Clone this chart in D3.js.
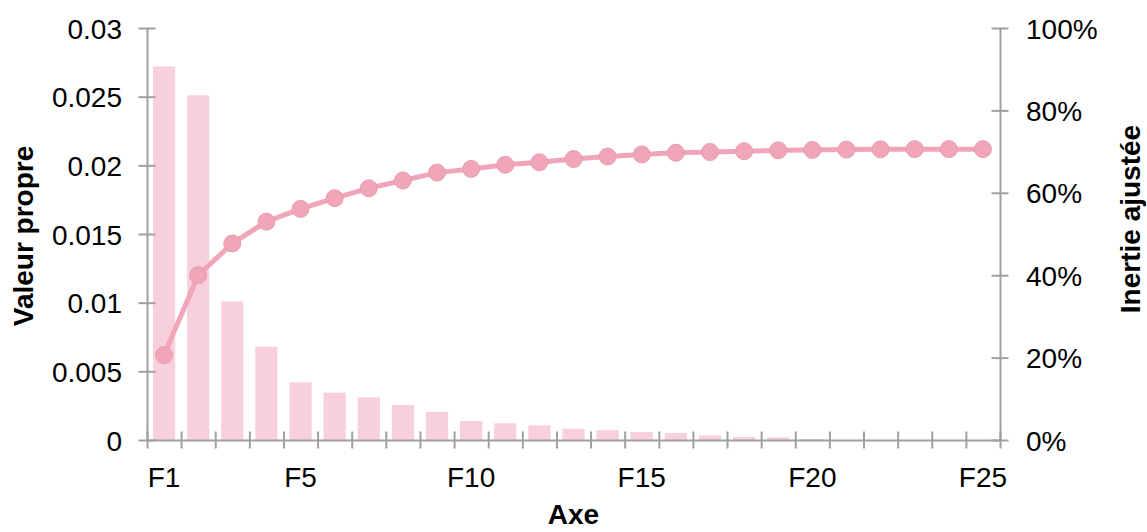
<!DOCTYPE html>
<html><head><meta charset="utf-8">
<script src="https://cdn.jsdelivr.net/npm/d3@7/dist/d3.min.js"></script>
<style>
html,body{margin:0;padding:0;background:#fff;}
svg text{font-family:"Liberation Sans",Arial,sans-serif;fill:#000;}
</style></head>
<body><svg id="c" width="1147" height="532"></svg>
<script>
const categories = ["F1","F2","F3","F4","F5","F6","F7","F8","F9","F10","F11","F12","F13","F14","F15","F16","F17","F18","F19","F20","F21","F22","F23","F24","F25"];
const eigenvalues = [0.0272,0.0251,0.0101,0.0068,0.0042,0.00345,0.0031,0.00255,0.00204,0.00138,0.00122,0.00107,0.00082,0.00071,0.00058,0.00051,0.00034,0.00022,0.0002,0.00007,0,0,0,0,0];
const inertia = [20.6,40.0,47.7,53.0,56.1,58.7,61.1,63.0,64.9,65.8,66.8,67.4,68.2,68.8,69.3,69.7,69.9,70.1,70.3,70.4,70.5,70.55,70.6,70.6,70.6];
const xTickLabels = ["F1","F5","F10","F15","F20","F25"];
const leftTicks = [0,0.005,0.01,0.015,0.02,0.025,0.03];
const rightTicks = [0,20,40,60,80,100];

const L=147, R=1000, T=28, B=440;
const axisColor="#a0a0a0";
const svg=d3.select("#c");

const x=d3.scaleBand().domain(categories).range([L,R]).paddingInner(0.35).paddingOuter(0.175);
const xb=d3.scaleLinear().domain([0,categories.length]).range([L,R]);
const yL=d3.scaleLinear().domain([0,0.03]).range([B,T]);
const yR=d3.scaleLinear().domain([0,100]).range([B,T]);

// bars
svg.append("g").selectAll("rect").data(eigenvalues).join("rect")
  .attr("x",(d,i)=>x(categories[i]))
  .attr("width",x.bandwidth())
  .attr("y",d=>yL(d))
  .attr("height",d=>B-yL(d))
  .attr("fill","#f7cfdd");

// axes
function styleAxis(g){
  g.select(".domain").attr("stroke",axisColor).attr("stroke-width",2);
  g.selectAll(".tick line").attr("stroke",axisColor).attr("stroke-width",2);
  g.selectAll(".tick text").style("font-size","28px");
}
const gl=svg.append("g").attr("transform",`translate(${L},0)`)
  .call(d3.axisLeft(yL).tickValues(leftTicks).tickFormat(d=>String(d)).tickSizeOuter(0).tickSizeInner(0).tickPadding(25));
styleAxis(gl);
gl.selectAll(".tick line").attr("x1",-8.5).attr("x2",8.5);
gl.selectAll(".tick text").attr("dy","0.36em");

const gr=svg.append("g").attr("transform",`translate(${R},0)`)
  .call(d3.axisRight(yR).tickValues(rightTicks).tickFormat(d=>d+"%").tickSizeOuter(0).tickSizeInner(0).tickPadding(26));
styleAxis(gr);
gr.selectAll(".tick line").attr("x1",-8.5).attr("x2",8.5);
gr.selectAll(".tick text").attr("dy","0.36em");

// x axis: tick marks at band boundaries
const gxb=svg.append("g").attr("transform",`translate(0,${B})`)
  .call(d3.axisBottom(xb).tickValues(d3.range(categories.length+1)).tickFormat("").tickSizeOuter(0).tickSizeInner(0));
styleAxis(gxb);
gxb.selectAll(".tick line").attr("y1",-8.5).attr("y2",8.5);

// x labels
const gx=svg.append("g").attr("transform",`translate(0,${B})`)
  .call(d3.axisBottom(x).tickValues(xTickLabels).tickSize(0).tickPadding(27));
gx.select(".domain").remove();
gx.selectAll(".tick text").style("font-size","28px").attr("dy","0.71em");

// line
const line=d3.line().x((d,i)=>x(categories[i])+x.bandwidth()/2).y(d=>yR(d));
svg.append("path").datum(inertia).attr("d",line)
  .attr("fill","none").attr("stroke","#f0a5b9").attr("stroke-width",5).attr("stroke-linejoin","round");
svg.append("g").selectAll("circle").data(inertia).join("circle")
  .attr("cx",(d,i)=>x(categories[i])+x.bandwidth()/2)
  .attr("cy",d=>yR(d)).attr("r",8.5)
  .attr("fill","#f0a5b9").attr("stroke","#e79db1").attr("stroke-width",1);

// titles
svg.append("text").attr("x",(L+R)/2).attr("y",524).attr("text-anchor","middle")
  .style("font-size","28px").style("font-weight","bold").text("Axe");
svg.append("text").attr("transform","translate(33,236) rotate(-90)").attr("text-anchor","middle")
  .style("font-size","28px").style("font-weight","bold").text("Valeur propre");
svg.append("text").attr("transform","translate(1140,219) rotate(-90)").attr("text-anchor","middle")
  .style("font-size","28px").style("font-weight","bold").text("Inertie ajustée");
</script></body></html>
